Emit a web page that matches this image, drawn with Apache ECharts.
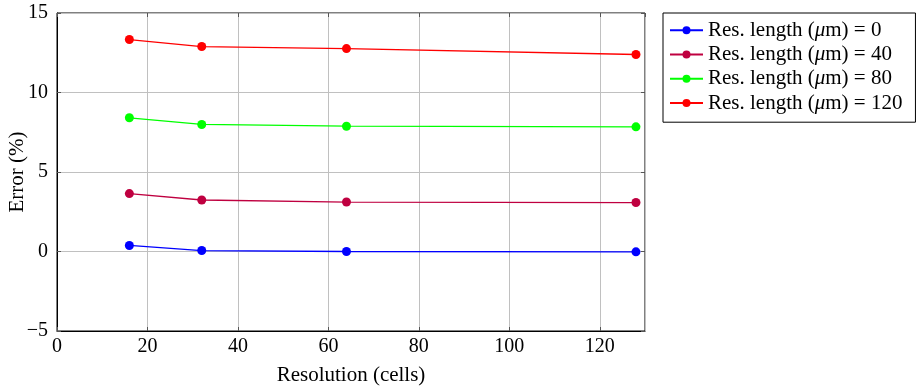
<!DOCTYPE html>
<html>
<head>
<meta charset="utf-8">
<script src="https://cdn.jsdelivr.net/npm/echarts@6/dist/echarts.min.js"></script>
<style>html,body{margin:0;padding:0;background:#fff}#c{width:916px;height:389px}</style>
</head>
<body>
<div id="c"></div>
<script>
const resolutions = [16, 32, 64, 128];
const err0 = [0.38, 0.06, 0.0, -0.02];
const err40 = [3.64, 3.24, 3.11, 3.08];
const err80 = [8.41, 7.99, 7.88, 7.84];
const err120 = [13.33, 12.89, 12.76, 12.39];
const lengths = ['0', '40', '80', '120'];
const seriesNames = lengths.map(l => 'Res. length (\u03bcm) = ' + l);
const seriesColors = ['#0000ff', '#bf0040', '#00ff00', '#ff0000'];
const seriesData = [err0, err40, err80, err120];

const FONT = 'Liberation Serif';
const chart = echarts.init(document.getElementById('c'));
const series = seriesData.map((d, i) => ({
  name: seriesNames[i],
  type: 'line',
  data: d.map((v, j) => [resolutions[j], v]),
  symbol: 'circle',
  symbolSize: 9,
  itemStyle: { color: seriesColors[i] },
  lineStyle: { color: seriesColors[i], width: 1.3 },
  emphasis: { disabled: true },
  animation: false
}));
const tickStyle = { show: true, inside: true, length: 4, lineStyle: { color: '#555', width: 1 } };
chart.setOption({
  animation: false,
  grid: { left: 57, right: 271, top: 13, bottom: 58, show: true, borderColor: '#000', borderWidth: 1,
    containLabel: false, outerBoundsMode: 'none' },
  legend: {
    orient: 'vertical', left: 663, top: 13,
    itemWidth: 33, itemHeight: 10, itemGap: 0,
    padding: [5, 13, 7, 6],
    borderColor: '#000', borderWidth: 1,
    textStyle: { fontFamily: FONT, fontSize: 21, color: '#000', lineHeight: 24.3,
      rich: {
        n: { fontFamily: FONT, fontSize: 21, color: '#000', lineHeight: 24.3 },
        i: { fontFamily: FONT, fontSize: 21, color: '#000', lineHeight: 24.3, fontStyle: 'italic' }
      } },
    formatter: name => {
      const parts = name.split('\u03bc');
      return '{n|' + parts[0] + '}{i|\u03bc}{n|' + parts[1] + '}';
    },
    data: seriesNames
  },
  xAxis: [{
    type: 'value', min: 0, max: 130, interval: 20,
    name: 'Resolution (cells)', nameLocation: 'middle', nameGap: 34, nameMoveOverlap: false,
    nameTextStyle: { fontFamily: FONT, fontSize: 21, color: '#000' },
    axisLine: { show: true, onZero: false, lineStyle: { color: '#000', width: 1 } },
    axisTick: tickStyle,
    axisLabel: { fontFamily: FONT, fontSize: 20, color: '#000', margin: 6, showMaxLabel: false },
    splitLine: { show: true, lineStyle: { color: '#c0c0c0', width: 1 } }
  }, {
    type: 'value', min: 0, max: 130, interval: 20, position: 'top',
    axisLine: { show: false, onZero: false }, axisTick: tickStyle, axisLabel: { show: false }, splitLine: { show: false }
  }],
  yAxis: [{
    type: 'value', min: -5, max: 15, interval: 5,
    name: 'Error (%)', nameLocation: 'middle', nameGap: 29, nameMoveOverlap: false,
    nameTextStyle: { fontFamily: FONT, fontSize: 21, color: '#000' },
    axisLine: { show: true, onZero: false, lineStyle: { color: '#000', width: 1 } },
    axisTick: tickStyle,
    axisLabel: { fontFamily: FONT, fontSize: 20, color: '#000', margin: 9,
      formatter: v => (v < 0 ? '\u2212' + Math.abs(v) : String(v)) },
    splitLine: { show: true, lineStyle: { color: '#c0c0c0', width: 1 } }
  }, {
    type: 'value', min: -5, max: 15, interval: 5, position: 'right',
    axisLine: { show: false, onZero: false }, axisTick: tickStyle, axisLabel: { show: false }, splitLine: { show: false }
  }],
  series: series
});
</script>
</body>
</html>
